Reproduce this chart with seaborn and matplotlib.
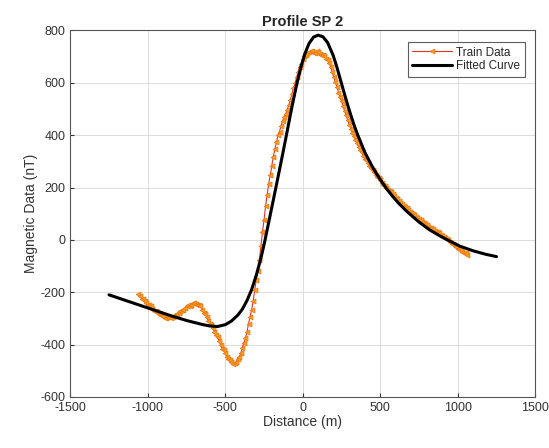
import matplotlib
matplotlib.use("Agg")
import matplotlib.pyplot as plt
import seaborn as sns
import pandas as pd

# measured profile (distance m, field nT)
train_x = [-1060, -1050, -1040, -1030, -1020, -1010, -1000, -990, -980, -970, -960, -950,
           -940, -930, -920, -910, -900, -890, -880, -870, -860, -850, -840, -830,
           -820, -810, -800, -790, -780, -770, -760, -750, -740, -730, -720, -710,
           -700, -690, -680, -670, -660, -650, -640, -630, -620, -610, -600, -590,
           -580, -570, -560, -550, -540, -530, -520, -510, -500, -490, -480, -470,
           -460, -450, -440, -430, -420, -410, -400, -390, -380, -370, -360, -350,
           -340, -330, -320, -310, -300, -290, -280, -270, -260, -250, -240, -230,
           -220, -210, -200, -190, -180, -170, -160, -150, -140, -130, -120, -110,
           -100, -90, -80, -70, -60, -50, -40, -30, -20, -10, 0, 10,
           20, 30, 40, 50, 60, 70, 80, 90, 100, 110, 120, 130,
           140, 150, 160, 170, 180, 190, 200, 210, 220, 230, 240, 250,
           260, 270, 280, 290, 300, 310, 320, 330, 340, 350, 360, 370,
           380, 390, 400, 410, 420, 430, 440, 450, 460, 470, 480, 490,
           500, 510, 520, 530, 540, 550, 560, 570, 580, 590, 600, 610,
           620, 630, 640, 650, 660, 670, 680, 690, 700, 710, 720, 730,
           740, 750, 760, 770, 780, 790, 800, 810, 820, 830, 840, 850,
           860, 870, 880, 890, 900, 910, 920, 930, 940, 950, 960, 970,
           980, 990, 1000, 1010, 1020, 1030, 1040, 1050, 1060]
train_y = [-208, -214, -224, -226, -233, -242, -249, -250, -254, -264, -270, -271,
           -276, -285, -288, -286, -289, -297, -300, -296, -294, -298, -295, -289,
           -284, -285, -281, -273, -268, -266, -261, -253, -250, -252, -249, -243,
           -241, -246, -247, -250, -254, -266, -278, -284, -295, -309, -320, -327,
           -338, -352, -365, -372, -385, -402, -415, -421, -431, -446, -457, -460,
           -465, -473, -472, -466, -455, -447, -434, -412, -393, -375, -352, -320,
           -293, -268, -234, -190, -153, -118, -76, -22, 30, 76, 128, 170,
           215, 246, 282, 318, 348, 372, 400, 414, 436, 455, 470, 482,
           498, 515, 536, 556, 580, 598, 622, 641, 662, 672, 690, 701,
           707, 713, 716, 722, 720, 712, 714, 721, 717, 710, 707, 708,
           703, 692, 688, 676, 662, 640, 622, 602, 585, 563, 546, 530,
           512, 492, 476, 457, 440, 425, 410, 396, 382, 370, 356, 345,
           336, 320, 310, 305, 295, 282, 274, 268, 260, 248, 240, 236,
           228, 218, 210, 206, 200, 191, 186, 182, 176, 166, 160, 155,
           148, 141, 136, 131, 124, 121, 116, 107, 102, 100, 96, 87,
           82, 80, 76, 68, 63, 61, 58, 50, 46, 45, 42, 35,
           30, 29, 27, 19, 14, 10, 6, 4, 0, -8, -14, -17,
           -22, -29, -34, -36, -40, -46, -50, -52, -57]

# fitted model curve
fit_x = [-1250, -1150, -1050, -950, -850, -750, -650, -600, -550, -500, -460, -420,
         -390, -360, -330, -300, -270, -245, -210, -170, -135, -99, -70, -37, -12,
         13, 40, 70, 99, 130, 160, 196, 220, 240, 270, 300, 330, 353, 400, 450, 500,
         540, 580, 620, 669, 750, 819, 900, 1013, 1100, 1180, 1250]
fit_y = [-210, -230, -250, -270, -290, -308, -323, -329, -331, -324, -310, -288,
         -265, -232, -190, -135, -70, -5, 95, 210, 312, 420, 508, 600, 660,
         710, 750, 775, 782, 776, 754, 705, 660, 618, 555, 495, 440, 403, 335, 278, 230,
         196, 166, 139, 110, 68, 38, 10, -24, -42, -55, -64]

train = pd.DataFrame({"x": train_x, "y": train_y})
fit = pd.DataFrame({"x": fit_x, "y": fit_y})

sns.set_style("whitegrid")
plt.rcParams["font.family"] = ["Liberation Sans", "DejaVu Sans"]
plt.rcParams["axes.unicode_minus"] = False

fig = plt.figure(figsize=(5.49, 4.48), dpi=100)
ax = fig.add_axes([0.128, 0.114, 0.847, 0.818])

sns.lineplot(data=train, x="x", y="y", ax=ax, sort=False, color="#e8321e", lw=0.8,
             marker="<", markersize=3.5, markerfacecolor="#f7a21b",
             markeredgecolor="#f0781a", markeredgewidth=0.6, label="Train Data")
sns.lineplot(data=fit, x="x", y="y", ax=ax, sort=False, color="black", lw=2.2,
             label="Fitted Curve")

ax.set_xlim(-1500, 1500)
ax.set_ylim(-600, 800)
ax.set_xticks([-1500, -1000, -500, 0, 500, 1000, 1500])
ax.set_yticks([-600, -400, -200, 0, 200, 400, 600, 800])
ax.grid(True, color="#dcdcdc", lw=0.7)
for s in ax.spines.values():
    s.set_color("#555555")
    s.set_linewidth(0.8)
ax.tick_params(labelsize=9, colors="#333333", length=3, direction="in",
               bottom=True, left=True)

ax.set_title("Profile SP 2", fontsize=10.5, fontweight="bold", pad=3)
ax.set_xlabel("Distance (m)", fontsize=10, color="#333333", labelpad=1)
ax.set_ylabel("Magnetic Data (nT)", fontsize=10, color="#333333", labelpad=2)

leg = ax.legend(loc="upper right", fontsize=8.5, frameon=True, fancybox=False,
                borderpad=0.4, handlelength=3.4, handletextpad=0.3,
                labelspacing=0.15, bbox_to_anchor=(0.99, 0.985))
leg.get_frame().set_edgecolor("#333333")
leg.get_frame().set_linewidth(0.8)

fig.savefig("out.png", dpi=100)
